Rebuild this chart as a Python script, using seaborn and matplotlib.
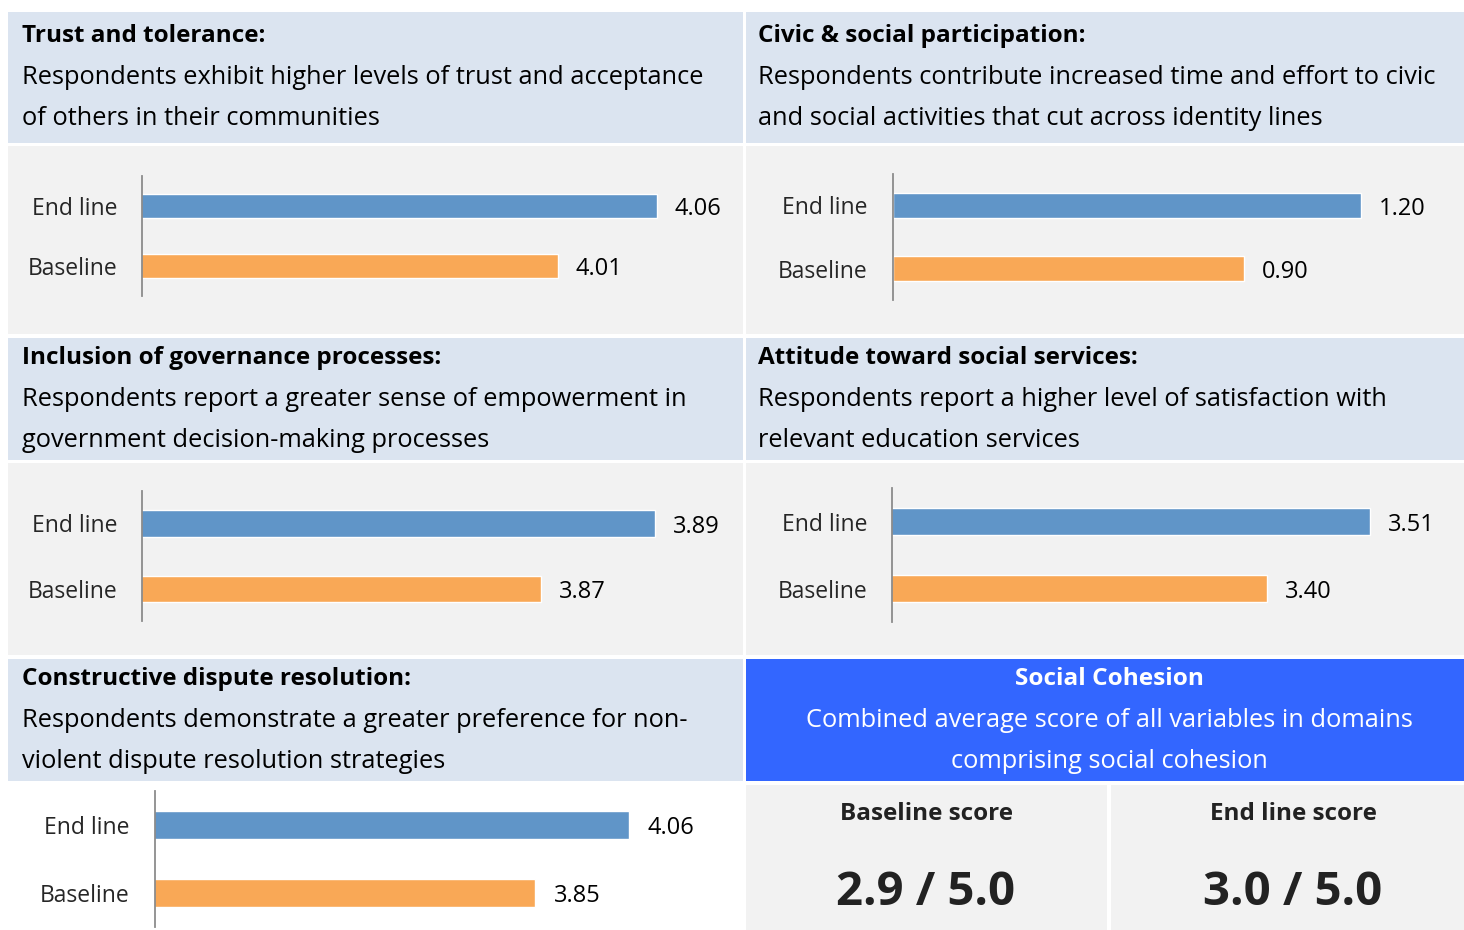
import matplotlib
matplotlib.use("Agg")
import matplotlib.pyplot as plt
import seaborn as sns
from matplotlib.patches import Rectangle

# data
groups = ["End line", "Baseline"]
titles = [
    "Trust and tolerance:",
    "Civic & social participation:",
    "Inclusion of governance processes:",
    "Attitude toward social services:",
    "Constructive dispute resolution:",
]
descriptions = [
    "Respondents exhibit higher levels of trust and acceptance\nof others in their communities",
    "Respondents contribute increased time and effort to civic\nand social activities that cut across identity lines",
    "Respondents report a greater sense of empowerment in\ngovernment decision-making processes",
    "Respondents report a higher level of satisfaction with\nrelevant education services",
    "Respondents demonstrate a greater preference for non-\nviolent dispute resolution strategies",
]
endline_values = [4.06, 1.20, 3.89, 3.51, 4.06]
baseline_values = [4.01, 0.90, 3.87, 3.40, 3.85]
x_limits = [(3.80, 4.10), (0.0, 1.40), (3.80, 3.90), (3.0, 3.6), (3.0, 4.2)]

summary_title = "Social Cohesion"
summary_text = "Combined average score of all variables in domains\ncomprising social cohesion"
score_labels = ["Baseline score", "End line score"]
score_values = ["2.9 / 5.0", "3.0 / 5.0"]

sns.set_style("white")
plt.rcParams["font.family"] = ["Open Sans", "DejaVu Sans"]

W, H = 1464, 930
HEADER_BG = "#DBE4F0"
CHART_BG = "#F2F2F2"
BLUE_BAR = "#6095C8"
ORANGE_BAR = "#F9A856"
BLUE_PANEL = "#3366FF"

fig = plt.figure(figsize=(W / 100, H / 100), dpi=100)
fig.patch.set_facecolor("white")


def box(x0, y0, x1, y1, color):
    fig.patches.append(Rectangle((x0 / W, 1 - y1 / H), (x1 - x0) / W, (y1 - y0) / H,
                                 transform=fig.transFigure, facecolor=color,
                                 edgecolor="none", zorder=-5))


def ftext(x, y, s, **kw):
    fig.text(x / W, 1 - y / H, s, **kw)


# panel backgrounds (pixel layout)
col_x = [(8, 743), (746, 1464)]
header_rows = [(12, 143), (338, 460), (659, 781)]
chart_rows = [(146, 334), (463, 655)]
for (y0, y1) in header_rows[:2]:
    for (x0, x1) in col_x:
        box(x0, y0, x1, y1, HEADER_BG)
for (y0, y1) in chart_rows:
    for (x0, x1) in col_x:
        box(x0, y0, x1, y1, CHART_BG)
box(8, 659, 743, 781, HEADER_BG)
box(746, 659, 1464, 781, BLUE_PANEL)
box(746, 785, 1107, 930, CHART_BG)
box(1111, 785, 1464, 930, CHART_BG)

# header texts
text_pos = [(22, 36), (758, 36), (22, 358), (758, 358), (22, 679)]
for (tx, ty), t, d in zip(text_pos, titles, descriptions):
    ftext(tx, ty, t, fontsize=17.5, fontweight="bold", va="center", ha="left", color="black")
    ftext(tx, ty + 62, d, fontsize=18.3, va="center", ha="left", color="black",
          linespacing=1.8)

# bar chart axes: left px, top px, height px
axes_px = [(142, 176, 120), (893, 174, 126), (142, 491, 130), (892, 488, 134), (155, 791, 136)]
scales = [0.05 / 99, 0.3 / 117, 0.02 / 114, 0.11 / 103, 0.21 / 94]

for i, ((left, top, hgt), (xmin, xmax), sc) in enumerate(zip(axes_px, x_limits, scales)):
    width_px = (xmax - xmin) / sc
    ax = fig.add_axes([left / W, 1 - (top + hgt) / H, width_px / W, hgt / H])
    ax.set_zorder(2)
    ax.set_facecolor("none")
    sns.barplot(x=[endline_values[i], baseline_values[i]], y=groups, hue=groups,
                palette=[BLUE_BAR, ORANGE_BAR], width=0.4, saturation=1,
                legend=False, ax=ax, orient="h")
    ax.set_xlim(xmin, xmax)
    ax.set_ylim(1.5, -0.5)
    for c in ax.containers:
        for t in ax.bar_label(c, fmt="%.2f", padding=13, fontsize=17, color="black"):
            t.xyann = (13, -2.5)
    ax.set_xticks([])
    ax.set_xlabel("")
    ax.set_ylabel("")
    ax.tick_params(axis="y", length=0, pad=18, labelsize=16.5)
    for s in ["top", "right", "bottom"]:
        ax.spines[s].set_visible(False)
    ax.spines["left"].set_color("#8C8C8C")
    ax.spines["left"].set_linewidth(1.3)

# summary panel
ftext(1109, 679, summary_title, fontsize=17.6, fontweight="bold", color="white",
      ha="center", va="center")
ftext(1109, 741, summary_text, fontsize=18.3, color="white", ha="center", va="center",
      linespacing=1.8)

for cx, lab, val in zip([926, 1293], score_labels, score_values):
    ftext(cx, 814, lab, fontsize=17.5, fontweight="bold", color="#222222",
          ha="center", va="center")
    ftext(cx, 892, val, fontsize=34, fontweight="bold", color="#222222",
          ha="center", va="center")

fig.savefig("out.png", dpi=100)
